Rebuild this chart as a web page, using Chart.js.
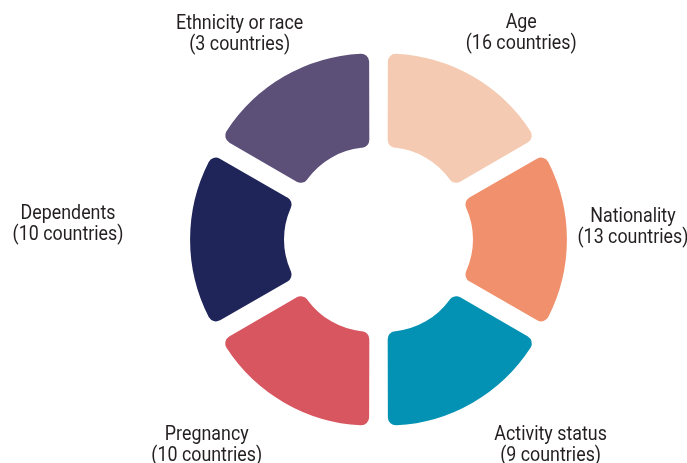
<!DOCTYPE html>
<html>
<head>
<meta charset="utf-8">
<script src="https://cdn.jsdelivr.net/npm/chart.js@4"></script>
<style>
  html, body { margin: 0; padding: 0; background: #fff; }
  #wrap { width: 687px; height: 463px; }
</style>
</head>
<body>
<div id="wrap"><canvas id="criteriaChart" width="687" height="463"></canvas></div>
<script>
const categories = ['Age', 'Nationality', 'Activity status', 'Pregnancy', 'Dependents', 'Ethnicity or race'];
const countryCounts = [16, 13, 9, 10, 10, 3];
// every segment in the picture has the same size
const segmentValues = [1, 1, 1, 1, 1, 1];
const colors = ['#F4CBB2', '#F0906C', '#0392B3', '#D85660', '#1F2459', '#5C5079'];
// small hand nudges for each label, on top of its place beside the ring
const labelNudge = [[6, -4], [-19, -15], [35, -1], [-35, -1], [-37, -18], [2, -3]];

// no condensed font installed, so squeeze Roboto sideways
const TEXT_SCALE_X = 0.85;

const outsideLabels = {
    id: 'outsideLabels',
    afterDatasetsDraw(chart) {
        const ctx = chart.ctx;
        const arcs = chart.getDatasetMeta(0).data;
        const cx0 = chart.chartArea.left + chart.chartArea.width / 2;
        const cy0 = chart.chartArea.top + chart.chartArea.height / 2;
        ctx.save();
        ctx.font = '21px Roboto, "Liberation Sans", sans-serif';
        ctx.fillStyle = '#231F20';
        ctx.textAlign = 'center';
        ctx.textBaseline = 'alphabetic';
        const capH = 15, lineH = 21;
        const r = 188 + 30;
        arcs.forEach((arc, i) => {
            const p = arc.getProps(['startAngle', 'endAngle'], true);
            const mid = (p.startAngle + p.endAngle) / 2;
            const lines = [categories[i], '(' + countryCounts[i] + ' countries)'];
            const w = Math.max(...lines.map(l => ctx.measureText(l).width)) * TEXT_SCALE_X;
            const h = capH + lineH;
            const bx = cx0 + Math.cos(mid) * (r + w / 2) + labelNudge[i][0];
            const by = cy0 + Math.sin(mid) * (r + h / 2) + labelNudge[i][1];
            lines.forEach((l, j) => {
                ctx.save();
                ctx.translate(bx, by - h / 2 + capH + lineH * j);
                ctx.scale(TEXT_SCALE_X, 1);
                ctx.fillText(l, 0, 0);
                ctx.restore();
            });
        });
        ctx.restore();
    }
};

document.addEventListener('DOMContentLoaded', function () {
    const ctx = document.getElementById('criteriaChart').getContext('2d');
    new Chart(ctx, {
        type: 'doughnut',
        data: {
            labels: categories,
            datasets: [{
                data: segmentValues,
                backgroundColor: colors,
                borderWidth: 0,
                borderRadius: 8,
                offset: 72,
                hoverOffset: 0
            }]
        },
        options: {
            responsive: false,
            animation: false,
            radius: 168,
            cutout: '44.1%',
            layout: { padding: { left: 70, top: 16, right: 0, bottom: 0 } },
            plugins: {
                legend: { display: false },
                tooltip: { enabled: false }
            }
        },
        plugins: [outsideLabels]
    });
});
</script>
</body>
</html>
